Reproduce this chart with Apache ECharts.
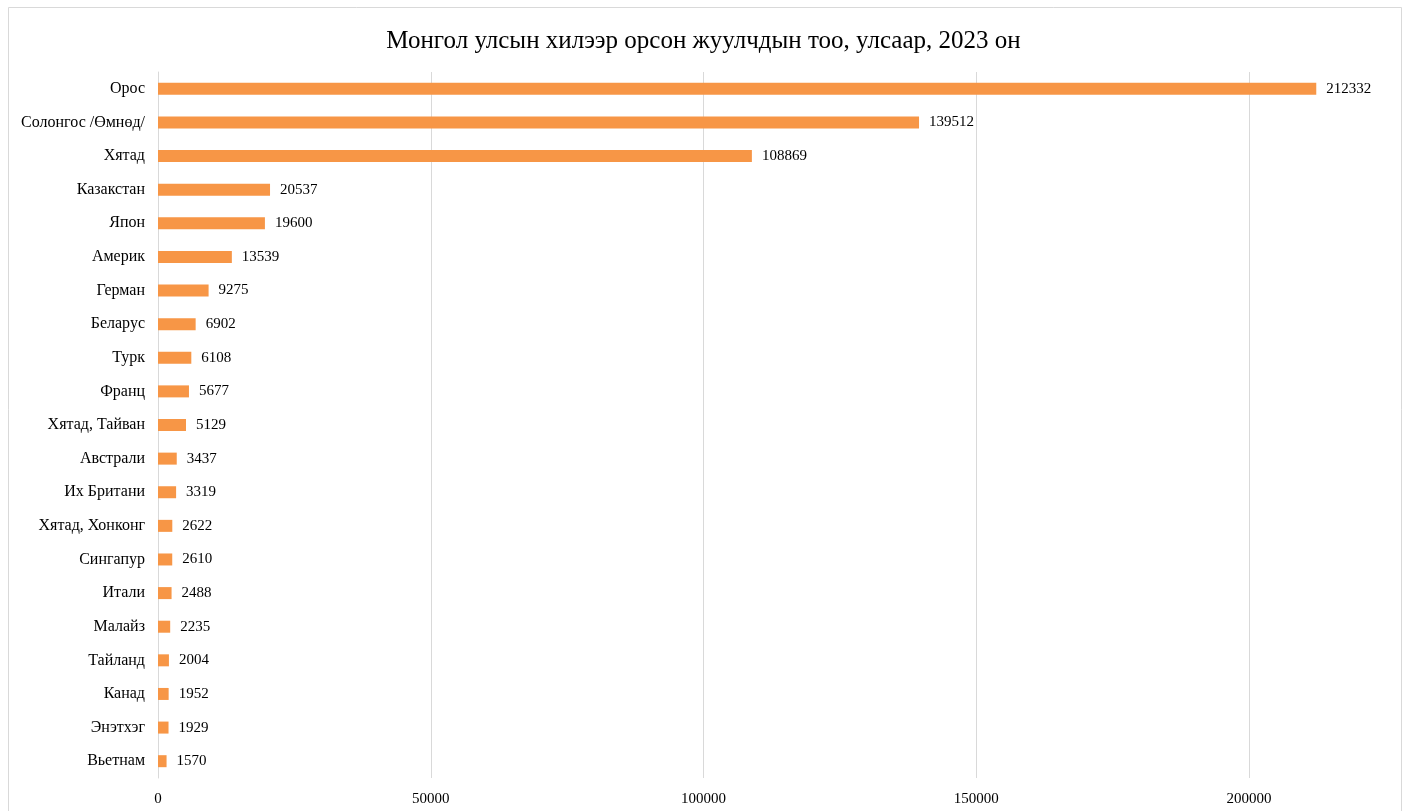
<!DOCTYPE html>
<html>
<head>
<meta charset="utf-8">
<script src="https://cdn.jsdelivr.net/npm/echarts@6/dist/echarts.min.js"></script>
<style>
html,body{margin:0;padding:0;background:#fff;}
#chart{width:1407px;height:811px;}
</style>
</head>
<body>
<div id="chart"></div>
<script>
const titleText = 'Монгол улсын хилээр орсон жуулчдын тоо, улсаар, 2023 он';
const categories = ['Орос','Солонгос /Өмнөд/','Хятад','Казакстан','Япон','Америк','Герман','Беларус','Турк','Франц','Хятад, Тайван','Австрали','Их Британи','Хятад, Хонконг','Сингапур','Итали','Малайз','Тайланд','Канад','Энэтхэг','Вьетнам'];
const values = [212332,139512,108869,20537,19600,13539,9275,6902,6108,5677,5129,3437,3319,2622,2610,2488,2235,2004,1952,1929,1570];
const tickStep = 50000;

const chart = echarts.init(document.getElementById('chart'));
const serif = '"Liberation Serif","Times New Roman",serif';
chart.setOption({
  backgroundColor: '#fff',
  animation: false,
  title: {
    text: titleText,
    left: 'center',
    top: 24,
    textStyle: {fontFamily: serif, fontSize: 25, fontWeight: 'normal', color: '#000'}
  },
  graphic: [{
    type: 'rect',
    shape: {x: 8.5, y: 7.5, width: 1393, height: 830},
    style: {fill: 'none', stroke: '#d9d9d9', lineWidth: 1},
    silent: true
  }],
  grid: {left: 158, right: 158, top: 72, bottom: 33, containLabel: false},
  xAxis: {
    type: 'value',
    min: 0,
    max: 200000,
    interval: tickStep,
    axisLine: {show: false},
    axisTick: {show: false},
    splitLine: {show: true, lineStyle: {color: '#d9d9d9', width: 1}},
    axisLabel: {fontFamily: serif, fontSize: 15, color: '#000', margin: 14, formatter: v => String(v)}
  },
  yAxis: {
    type: 'category',
    data: categories,
    inverse: true,
    axisLine: {show: true, lineStyle: {color: '#d9d9d9', width: 1}},
    axisTick: {show: false},
    axisLabel: {fontFamily: serif, fontSize: 16, color: '#000', margin: 13}
  },
  series: [{
    type: 'bar',
    data: values,
    barWidth: 12,
    clip: false,
    itemStyle: {color: '#F79646'},
    label: {
      show: true,
      position: 'right',
      distance: 10,
      fontFamily: serif,
      fontSize: 15,
      color: '#000'
    }
  }]
});
</script>
</body>
</html>
